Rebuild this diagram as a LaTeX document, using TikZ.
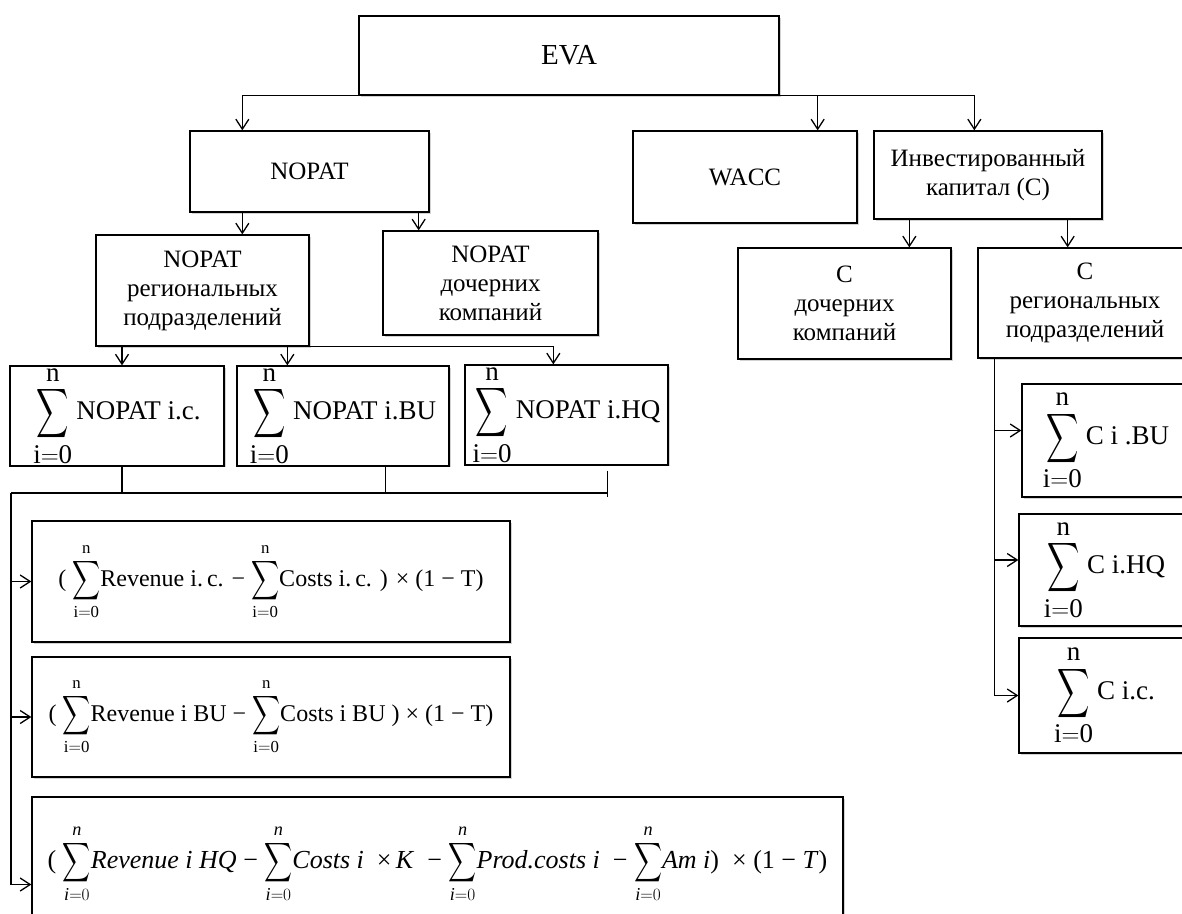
\documentclass[tikz,border=0pt]{standalone}
\usepackage{fontspec}
\setmainfont{Liberation Serif}
\usepackage{amsmath}
\usetikzlibrary{positioning, arrows.meta, shadows}

\newcommand{\bsum}{\mathop{\vcenter{\hbox{\fontsize{24}{24}\selectfont\scalebox{0.9}[1.38]{$\displaystyle\sum$}}}}\limits}
\newcommand{\fsum}{\mathop{\vcenter{\hbox{\fontsize{24}{24}\selectfont\scalebox{0.78}[1.1]{$\displaystyle\sum$}}}}\limits}
\newcommand{\rs}{$\fsum_{\mathrm{i{=}0}}^{\mathrm{n}}$}
\newcommand{\its}{$\fsum_{\mathit{i}{=}0}^{\mathit{n}}$}

\tikzset{
  box/.style={draw, line width=1.3pt, fill=white, align=center, inner sep=2pt,
    drop shadow={shadow xshift=1.5pt, shadow yshift=-1.5pt, opacity=0.35},
    font=\fontsize{25}{29}\selectfont},
  sumbox/.style={box, inner sep=0pt, font=\fontsize{27}{30}\selectfont},
  formbox/.style={box, font=\fontsize{24}{28}\selectfont},
  arr/.style={-{Straight Barb[length=10pt,width=13pt]}, line width=1.3pt},
  link/.style={line width=1.3pt}
}

\begin{document}
\begin{tikzpicture}[x=1pt, y=-1pt]
        \useasboundingbox (0,0) rectangle (1182,913);
        \clip (0,0) rectangle (1182,913);
        % top
        \node[box, font=\fontsize{29}{32}\selectfont, minimum width=420pt, minimum height=79pt] (EVA) at (569,55.5) {EVA};
        % 1st layer
        \node[box, minimum width=239pt, minimum height=81pt] (nopat) at (309.5,171.5) {NOPAT};
        \node[box, minimum width=224pt, minimum height=92pt] (wacc) at (745,177) {WACC};
        \node[box, minimum width=228pt, minimum height=88pt] (invcap) at (988,175) {Инвестированный\\капитал (С)};
        % 2nd layer
        \node[box, minimum width=213pt, minimum height=111pt] (nopatReg) at (202.5,290.5) {NOPAT\\региональных\\подразделений};
        \node[box, minimum width=215pt, minimum height=104pt] (nopatSub) at (490.5,283) {NOPAT\\дочерних\\компаний};
        \node[box, minimum width=213pt, minimum height=111pt] (capSub) at (844.5,303.5) {С\\дочерних\\компаний};
        \node[box, minimum width=214pt, minimum height=110pt] (capReg) at (1085,303) {С\\региональных\\подразделений};
        % sums of NOPAT
        \node[sumbox, minimum width=214pt, minimum height=98pt] (sumIc) at (117,416) {$\bsum_{\textstyle\mathrm{i{=}0}}^{\textstyle\mathrm{n}}\text{NOPAT i.c.}$};
        \node[sumbox, minimum width=212pt, minimum height=98pt] (sumBU) at (343,416) {$\bsum_{\textstyle\mathrm{i{=}0}}^{\textstyle\mathrm{n}}\text{NOPAT i.BU}$};
        \node[sumbox, minimum width=203pt, minimum height=98pt] (sumHQ) at (566.5,415) {$\bsum_{\textstyle\mathrm{i{=}0}}^{\textstyle\mathrm{n}}\text{NOPAT i.HQ}$};
        % formulas
        \node[formbox, minimum width=478pt, minimum height=121pt] (fIc) at (271,581.5) {( \rs Revenue i.\,c. − \rs Costs i.\,c. ) × (1 − T)};
        \node[formbox, minimum width=478pt, minimum height=120pt] (fBU) at (271,717) {( \rs Revenue i BU − \rs Costs i BU ) × (1 − T)};
        \node[formbox, font=\fontsize{26}{28}\selectfont, minimum width=811pt, minimum height=133pt] (fHQ) at (437.5,863.5) {( \its\textit{Revenue i HQ} − \its\textit{Costs i}\ \ ×\,\textit{K}\ \ − \its\textit{Prod.costs i}\ \ − \its\textit{Am i})\ \ × (1 − \textit{T})};
        % sums of C
        \node[sumbox, minimum width=168pt, minimum height=113pt] (cBU) at (1106,440.5) {$\bsum_{\textstyle\mathrm{i{=}0}}^{\textstyle\mathrm{n}}\text{C i .BU}$};
        \node[sumbox, minimum width=171pt, minimum height=112pt] (cHQ) at (1104.5,570) {$\bsum_{\textstyle\mathrm{i{=}0}}^{\textstyle\mathrm{n}}\text{C i.HQ}$};
        \node[sumbox, minimum width=171pt, minimum height=115pt] (cIc) at (1104.5,695.5) {$\bsum_{\textstyle\mathrm{i{=}0}}^{\textstyle\mathrm{n}}\text{C i.c.}$};

        % Now the lines between the nodes
        \coordinate (nopatIn) at ([xshift=53pt]nopat.north west);
        \coordinate (waccIn) at ([xshift=-40pt]wacc.north east);
        \coordinate (invIn) at ([xshift=101pt]invcap.north west);
        \draw[arr] (EVA.south west) -| (nopatIn);
        \draw[arr] ([xshift=-50pt]EVA.south east) -| (invIn);
        \draw[arr] (waccIn |- EVA.south) -- (waccIn);

        \coordinate (subIn) at ([xshift=-11pt]nopat.south east);
        \draw[arr] (nopatIn |- nopat.south) -- (nopatIn |- nopatReg.north);
        \draw[arr] (subIn) -- (subIn |- nopatSub.north);

        \coordinate (icIn) at ([xshift=5pt]sumIc.north);
        \coordinate (buIn) at ([xshift=51pt]sumBU.north west);
        \coordinate (hqIn) at ([xshift=89pt]sumHQ.north west);
        \draw[arr] (icIn |- nopatReg.south) -- (icIn);
        \draw[arr] (buIn |- nopatReg.south) -- (buIn);
        \draw[arr] (nopatReg.south east) -| (hqIn);

        \coordinate (bus) at (11,493);
        \coordinate (buOut) at ([xshift=149pt]sumBU.south west);
        \coordinate (hqOut) at ([xshift=143pt,yshift=-5pt]sumHQ.south west);
        \draw[link] (icIn |- sumIc.south) -- (icIn |- bus);
        \draw[link] (buOut) -- (buOut |- bus);
        \draw[link] (hqOut) -- (hqOut |- bus) -- ++(0,4);
        \draw[link] (bus) -- (hqOut |- bus);
        \coordinate (hqArr) at ([yshift=-21pt]fHQ.west);
        \draw[arr] (bus) |- (hqArr);
        \draw[arr] (bus |- fIc.west) -- (fIc.west);
        \draw[arr] (bus |- fBU.west) -- (fBU.west);

        \coordinate (cdIn) at ([xshift=36pt]invcap.south west);
        \coordinate (crIn) at ([xshift=-35pt]invcap.south east);
        \draw[arr] (cdIn) -- (cdIn |- capSub.north);
        \draw[arr] (crIn) -- (crIn |- capReg.north);
        \coordinate (cbus) at ([xshift=17pt]capReg.south west);
        \coordinate (cbuArr) at ([yshift=10pt]cBU.west);
        \coordinate (chqArr) at ([yshift=10pt]cHQ.west);
        \draw[arr] (cbus) |- (cIc.west);
        \draw[arr] (cbus |- cbuArr) -- (cbuArr);
        \draw[arr] (cbus |- chqArr) -- (chqArr);
    \end{tikzpicture}
\end{document}
